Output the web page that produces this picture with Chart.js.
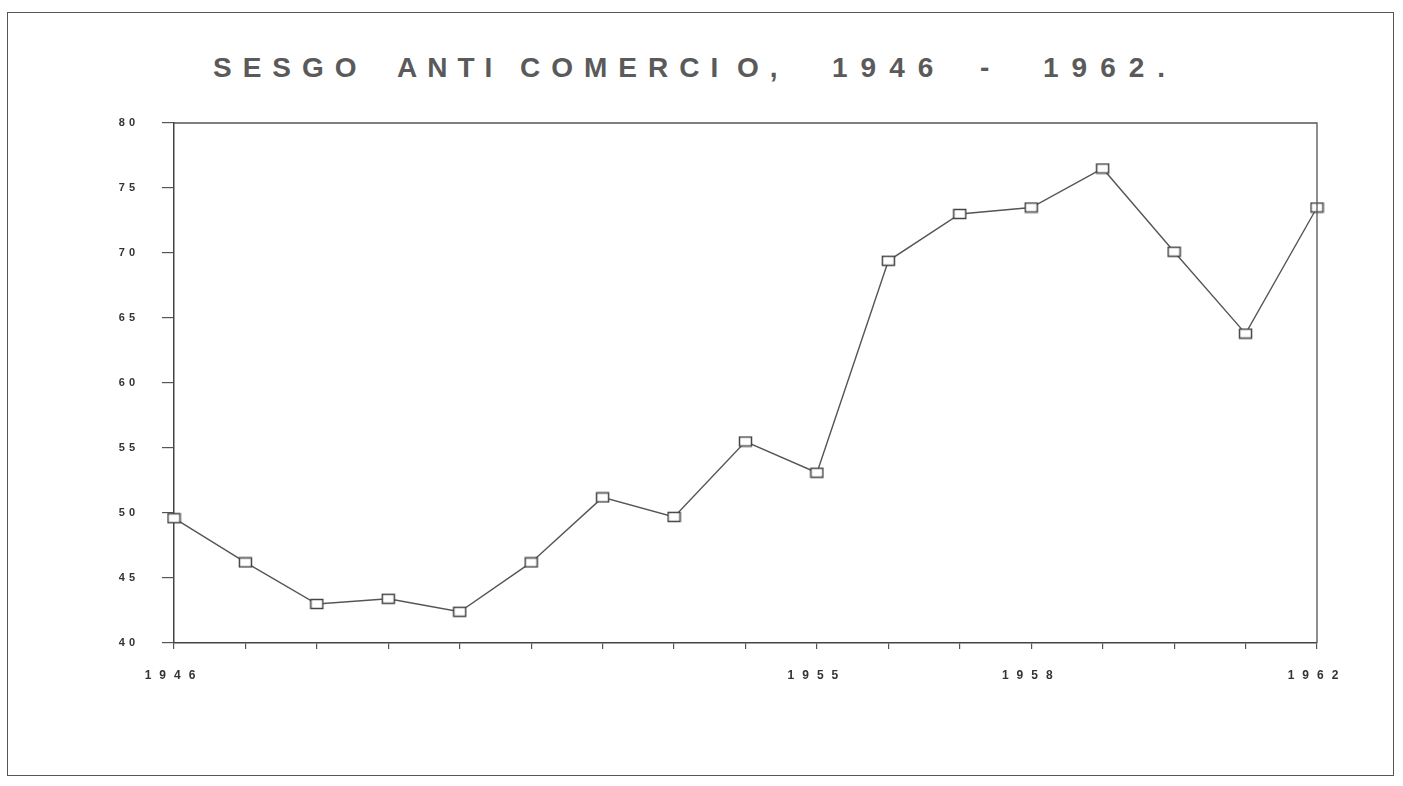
<!DOCTYPE html>
<html>
<head>
<meta charset="utf-8">
<script src="https://cdn.jsdelivr.net/npm/chart.js@4/dist/chart.umd.min.js"></script>
<style>
  html, body { margin: 0; padding: 0; background: #fff; }
  #page { position: relative; width: 1403px; height: 786px; overflow: hidden; }
  #frame { position: absolute; left: 7px; top: 12px; width: 1385px; height: 762px; border: 1.5px solid #555; }
  #title { position: absolute; left: 0; top: 54px; height: 28px; width: 1403px;
           font: bold 28px "Liberation Sans", Arial, sans-serif; line-height: 28px; color: #5a5a5a; white-space: pre; }
  #title span { position: absolute; top: 0; }
  canvas { position: absolute; left: 0; top: 0; }
</style>
</head>
<body>
<div id="page">
  <div id="frame"></div>
  <div id="title">
    <span style="left:213px;letter-spacing:11px">SESGO</span>
    <span style="left:397px;letter-spacing:10px">ANTI</span>
    <span style="left:520px;letter-spacing:11px">COMERCI</span>
    <span style="left:737px;letter-spacing:11px">O,</span>
    <span style="left:832px;letter-spacing:13px">1946</span>
    <span style="left:980px">-</span>
    <span style="left:1043px;letter-spacing:13px">1962.</span>
  </div>
  <canvas id="sesgoChart" width="1403" height="786"></canvas>
</div>
<script>
// Years on the x axis (one point per year)
const years = ['1946', '1947', '1948', '1949', '1950', '1951', '1952', '1953', '1954',
               '1955', '1956', '1957', '1958', '1959', '1960', '1961', '1962'];
// Only these years get a printed label
const labeledYears = ['1946', '1955', '1958', '1962'];
// Anti-trade bias index
const sesgo = [49.6, 46.2, 43.0, 43.4, 42.4, 46.2, 51.2, 49.7, 55.5,
               53.1, 69.4, 73.0, 73.5, 76.5, 70.1, 63.8, 73.5];
// y axis range
const yMin = 40;
const yMax = 80;
const yStep = 5;

// open square marker, a bit wider than tall
const marker = document.createElement('canvas');
marker.width = 15;
marker.height = 12;
const mctx = marker.getContext('2d');
mctx.fillStyle = '#fff';
mctx.fillRect(1, 1, 13, 10);
mctx.strokeStyle = '#444';
mctx.lineWidth = 1.5;
mctx.strokeRect(1.5, 1.5, 12, 9);

// draws the top and right edges of the plot box
const plotBox = {
    id: 'plotBox',
    afterDraw(chart) {
        const a = chart.chartArea;
        const ctx = chart.ctx;
        ctx.save();
        ctx.strokeStyle = '#555';
        ctx.lineWidth = 1.3;
        ctx.beginPath();
        ctx.moveTo(a.left, a.top);
        ctx.lineTo(a.right, a.top);
        ctx.lineTo(a.right, a.bottom);
        ctx.stroke();
        ctx.restore();
    }
};

// spaced-out tick digits like the old printer output
const spacedLabels = {
    id: 'spacedLabels',
    beforeDraw(chart, args, opts) {
        Object.values(chart.scales).forEach(scale => {
            if (scale._spaced) return;
            const base = scale.drawLabels;
            const spacing = opts[scale.id] || '0px';
            scale.drawLabels = function(area) {
                this.ctx.save();
                this.ctx.letterSpacing = spacing;
                base.call(this, area);
                this.ctx.restore();
            };
            scale._spaced = true;
        });
    }
};

new Chart(document.getElementById('sesgoChart'), {
    type: 'line',
    data: {
        labels: years,
        datasets: [{
            label: 'Sesgo anti comercio',
            data: sesgo,
            borderColor: '#555',
            borderWidth: 1.4,
            tension: 0,
            pointStyle: marker,
            pointRadius: 6,
            clip: false
        }]
    },
    options: {
        responsive: false,
        animation: false,
        layout: {
            padding: { left: 114, right: 86, top: 123, bottom: 93 }
        },
        plugins: {
            legend: { display: false },
            tooltip: { enabled: false },
            title: { display: false },
            spacedLabels: { x: '8px', y: '4px' }
        },
        scales: {
            x: {
                type: 'category',
                offset: false,
                afterFit: scale => { scale.height = 50; },
                grid: {
                    drawOnChartArea: false,
                    drawTicks: true,
                    tickLength: 6,
                    color: '#555',
                    lineWidth: 1.2
                },
                border: { color: '#444', width: 1.5 },
                ticks: {
                    autoSkip: false,
                    maxRotation: 0,
                    padding: 19,
                    color: '#333',
                    font: { family: 'Liberation Sans', size: 12, weight: 'bold' },
                    callback: function(value) {
                        const label = this.getLabelForValue(value);
                        return labeledYears.includes(label) ? label : '';
                    }
                }
            },
            y: {
                min: yMin,
                max: yMax,
                afterFit: scale => { scale.width = 60; },
                grid: {
                    drawOnChartArea: false,
                    drawTicks: true,
                    tickLength: 12,
                    color: '#555',
                    lineWidth: 1.2
                },
                border: { color: '#444', width: 1.5 },
                ticks: {
                    stepSize: yStep,
                    padding: 23,
                    color: '#333',
                    font: { family: 'Liberation Sans', size: 11, weight: 'bold' }
                }
            }
        }
    },
    plugins: [plotBox, spacedLabels]
});
</script>
</body>
</html>
